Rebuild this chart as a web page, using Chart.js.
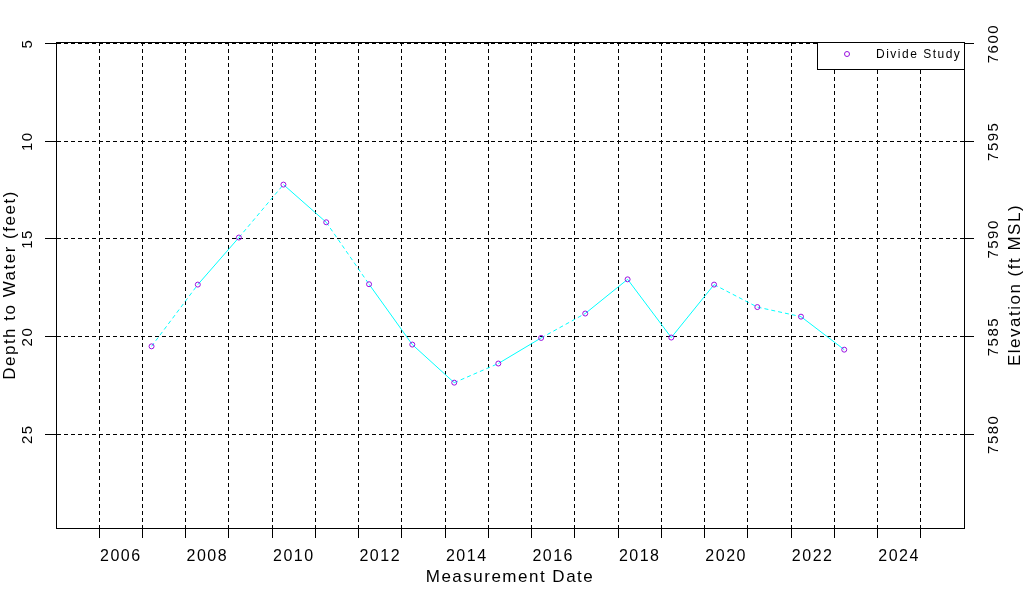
<!DOCTYPE html>
<html lang="en">
<head>
    <meta charset="UTF-8">
    <title>Divide Study - Depth to Water</title>
    <script src="https://cdn.jsdelivr.net/npm/chart.js"></script>
    <style>
        body { margin: 0; background: #fff; }
        #grafico { display: block; }
    </style>
</head>
<body>

    <canvas id="grafico" width="1024" height="600"></canvas>

<script>
    // measurement dates (decimal years) and depth to water in feet
    const measureDates = [2007.21, 2008.28, 2009.23, 2010.26, 2011.25, 2012.24, 2013.24, 2014.21, 2015.23,
        2016.22, 2017.24, 2018.22, 2019.23, 2020.22, 2021.22, 2022.23, 2023.23];
    const depthFeet = [20.50, 17.34, 14.93, 12.22, 14.15, 17.32, 20.41, 22.36, 21.38,
        20.07, 18.82, 17.07, 20.05, 17.34, 18.49, 18.98, 20.67];

    const yearTicks = [2006, 2007, 2008, 2009, 2010, 2011, 2012, 2013, 2014, 2015,
        2016, 2017, 2018, 2019, 2020, 2021, 2022, 2023, 2024, 2025];
    const yearLabels = ['2006', '2008', '2010', '2012', '2014', '2016', '2018', '2020', '2022', '2024'];
    const depthTicks = [5, 10, 15, 20, 25];
    const elevationTicks = [7580, 7585, 7590, 7595, 7600];

    const depthMin = 4.92;
    const depthMax = 29.8;
    const landSurface = 7605; // elevation = landSurface - depth

    // segments drawn dashed in the original plot (index of first point)
    const dashedSegments = [0, 2, 4, 7, 9, 13, 14];

    const fonte = 'Liberation Sans';
    Chart.defaults.font.family = fonte;
    Chart.defaults.color = '#000';

    // letter spacing like the original bitmap font
    const espacamento = {
        id: 'espacamento',
        beforeUpdate(chart) { chart.ctx.letterSpacing = '1.5px'; },
        beforeDraw(chart) { chart.ctx.letterSpacing = '1.5px'; }
    };

    // box around plot, right title and legend box
    const moldura = {
        id: 'moldura',
        afterDraw(chart) {
            const ctx = chart.ctx;
            const a = chart.chartArea;
            const l = Math.round(a.left) + 0.5, t = Math.round(a.top) + 0.5;
            const r = Math.round(a.right) + 0.5, b = Math.round(a.bottom) + 0.5;
            ctx.save();
            ctx.strokeStyle = '#000';
            ctx.lineWidth = 1;
            ctx.setLineDash([]);
            ctx.strokeRect(l, t, r - l, b - t);

            // legend
            const ds = chart.data.datasets[0];
            const lx = 817.5, ly = t, lb = 69.5;
            ctx.fillStyle = '#fff';
            ctx.fillRect(lx, ly, r - lx, lb - ly);
            ctx.strokeRect(lx, ly, r - lx, lb - ly);
            ctx.beginPath();
            ctx.arc(847, 54, 2.5, 0, Math.PI * 2);
            ctx.strokeStyle = ds.pointBorderColor;
            ctx.stroke();
            ctx.fillStyle = '#000';
            ctx.font = '12px "' + fonte + '"';
            ctx.textAlign = 'left';
            ctx.textBaseline = 'middle';
            ctx.fillText(ds.label, 876, 55);

            // right axis title (bottom to top)
            ctx.translate(1015, (a.top + a.bottom) / 2);
            ctx.rotate(-Math.PI / 2);
            ctx.font = '17px "' + fonte + '"';
            ctx.textAlign = 'center';
            ctx.fillText('Elevation (ft MSL)', 0, 0);
            ctx.restore();
        }
    };

    const pontos = measureDates.map((x, i) => ({ x: x, y: depthFeet[i] }));

    const config = {
        type: 'line',
        data: {
            datasets: [{
                label: 'Divide Study',
                data: pontos,
                yAxisID: 'y',
                borderColor: '#00ffff',
                borderWidth: 1,
                tension: 0,
                fill: false,
                pointRadius: 2.5,
                pointBorderWidth: 1,
                pointBorderColor: '#9a10e0',
                pointBackgroundColor: 'rgba(0,0,0,0)',
                segment: {
                    borderDash: ctx => dashedSegments.includes(ctx.p0DataIndex) ? [4, 3] : []
                }
            }]
        },
        options: {
            responsive: false,
            animation: false,
            layout: { padding: { top: 42, left: 0, right: 0, bottom: 0 } },
            plugins: {
                legend: { display: false },
                tooltip: { enabled: false }
            },
            scales: {
                x: {
                    type: 'linear',
                    position: 'bottom',
                    min: 2005,
                    max: 2026,
                    afterBuildTicks: s => { s.ticks = yearTicks.map(v => ({ value: v })); },
                    afterFit: s => { s.height = 72; },
                    ticks: {
                        autoSkip: false,
                        minRotation: 0,
                        maxRotation: 0,
                        labelOffset: 21.6,
                        padding: 9,
                        font: { size: 16 },
                        callback: v => yearLabels.includes(String(v)) ? String(v) : ''
                    },
                    grid: {
                        color: '#000',
                        lineWidth: 1,
                        tickLength: 10,
                        tickColor: '#000',
                        tickBorderDash: []
                    },
                    border: { color: '#000', width: 1, dash: [4, 3] },
                    title: {
                        display: true,
                        text: 'Measurement Date',
                        font: { size: 17 },
                        padding: { top: 0, bottom: 12 }
                    }
                },
                y: {
                    type: 'linear',
                    position: 'left',
                    reverse: true,
                    min: depthMin,
                    max: depthMax,
                    afterBuildTicks: s => { s.ticks = depthTicks.map(v => ({ value: v })); },
                    afterFit: s => { s.width = 56; },
                    ticks: {
                        minRotation: 90,
                        maxRotation: 90,
                        crossAlign: 'center',
                        padding: 7,
                        font: { size: 15 },
                        callback: v => String(v)
                    },
                    grid: {
                        color: '#000',
                        lineWidth: 1,
                        tickLength: 11,
                        tickColor: '#000',
                        tickBorderDash: []
                    },
                    border: { color: '#000', width: 1, dash: [4, 3] },
                    title: {
                        display: true,
                        text: 'Depth to Water (feet)',
                        font: { size: 17 },
                        padding: { top: 0, bottom: 0 }
                    }
                },
                y2: {
                    type: 'linear',
                    position: 'right',
                    min: landSurface - depthMax,
                    max: landSurface - depthMin,
                    afterBuildTicks: s => { s.ticks = elevationTicks.map(v => ({ value: v })); },
                    afterFit: s => { s.width = 60; },
                    ticks: {
                        minRotation: 90,
                        maxRotation: 90,
                        crossAlign: 'center',
                        padding: 0,
                        font: { size: 15 },
                        callback: v => String(v)
                    },
                    grid: {
                        drawOnChartArea: false,
                        tickLength: 10,
                        tickColor: '#000',
                        tickBorderDash: []
                    },
                    border: { color: '#000', width: 1 }
                }
            }
        },
        plugins: [espacamento, moldura]
    };

    let meuGrafico = new Chart(document.getElementById('grafico'), config);
</script>
</body>
</html>
